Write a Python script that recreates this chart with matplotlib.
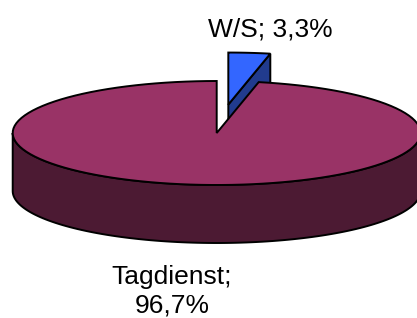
import matplotlib
matplotlib.use('Agg')
import matplotlib.pyplot as plt
from matplotlib.patches import Polygon
import numpy as np

# data (clockwise from 12 o'clock, like Excel)
categories = ['W/S', 'Tagdienst']
values = [3.3, 96.7]
explode = [0.55, 0.0]
top_colors = ['#3366FF', '#993366']
side_colors = ['#213B8E', '#4C1A33']

# pie geometry in pixel units
cx, cy = 216.7, 133.0
rx, ry = 204.0, 52.0
depth = 58.0

fig = plt.figure(figsize=(4.17, 3.18), dpi=100)
ax = fig.add_axes([0, 0, 1, 1])
ax.set_xlim(0, 417)
ax.set_ylim(318, 0)
ax.axis('off')

def pt(t, ox, oy, dz=0.0):
    return (ox + rx * np.sin(t), oy - ry * np.cos(t) + dz)

def arc(t0, t1, ox, oy, dz=0.0, n=120):
    ts = np.linspace(t0, t1, n)
    return [pt(t, ox, oy, dz) for t in ts]

total = sum(values)
angles = np.cumsum([0] + values) / total * 2 * np.pi
kw = dict(edgecolor='black', lw=1.4, joinstyle='miter')

# back-most slice first (exploded W/S), then the big slice
order = [0, 1]
for i in order:
    t0, t1 = angles[i], angles[i + 1]
    mid = (t0 + t1) / 2
    ox = cx + explode[i] * rx * np.sin(mid)
    oy = cy - explode[i] * ry * np.cos(mid)

    # visible outer wall (front half of the ellipse)
    a, b = max(t0, np.pi / 2), min(t1, 3 * np.pi / 2)
    if a < b:
        wall = arc(a, b, ox, oy) + arc(b, a, ox, oy, depth)
        ax.add_patch(Polygon(wall, closed=True, facecolor=side_colors[i], **kw))

    # radial face at the end angle, seen when it faces the viewer
    if np.cos(t1) > 0 and np.sin(t1) > 0 and t1 < np.pi / 2:
        face = [(ox, oy), pt(t1, ox, oy), pt(t1, ox, oy, depth), (ox, oy + depth)]
        ax.add_patch(Polygon(face, closed=True, facecolor=side_colors[i], **kw))

    top = [(ox, oy)] + arc(t0, t1, ox, oy)
    ax.add_patch(Polygon(top, closed=True, facecolor=top_colors[i], **kw))

font = dict(family=['Liberation Sans', 'DejaVu Sans'], fontsize=19, color='black')
lab = [f"{c}; {v:.1f}%".replace('.', ',') for c, v in zip(categories, values)]
ax.text(270, 37, lab[0], ha='center', va='baseline', **font)
ax.text(172, 312, lab[1].replace(' ', '\n'), ha='center', va='baseline',
        linespacing=1.2, **font)

fig.savefig('out.png', dpi=100)
